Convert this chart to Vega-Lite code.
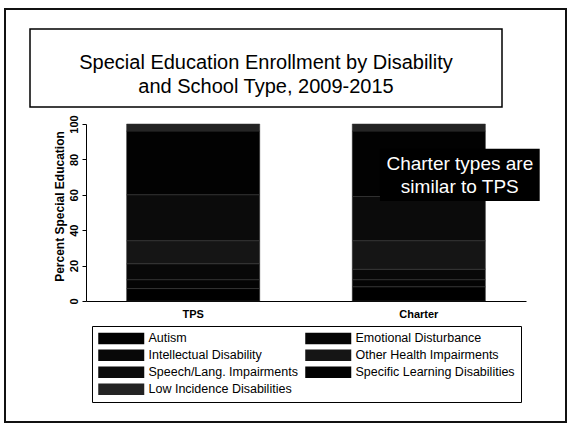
{
  "$schema": "https://vega.github.io/schema/vega-lite/v6.json",
  "width": 561,
  "height": 413,
  "autosize": {"type": "none"},
  "padding": {"left": 5, "top": 9, "right": 5, "bottom": 4},
  "background": "white",
  "config": {
    "view": {"stroke": "#111111", "strokeWidth": 2},
    "font": "Liberation Sans",
    "axis": {"labelFont": "Liberation Sans", "titleFont": "Liberation Sans", "labelColor": "#000000", "titleColor": "#000000", "domainColor": "#000000", "tickColor": "#000000", "grid": false}
  },
  "datasets": {
    "enroll": [
      {"school": "TPS", "disability": "Autism", "rank": 1, "pct": 7},
      {"school": "TPS", "disability": "Emotional Disturbance", "rank": 2, "pct": 5},
      {"school": "TPS", "disability": "Intellectual Disability", "rank": 3, "pct": 9},
      {"school": "TPS", "disability": "Other Health Impairments", "rank": 4, "pct": 13},
      {"school": "TPS", "disability": "Speech/Lang. Impairments", "rank": 5, "pct": 26},
      {"school": "TPS", "disability": "Specific Learning Disabilities", "rank": 6, "pct": 36},
      {"school": "TPS", "disability": "Low Incidence Disabilities", "rank": 7, "pct": 4},
      {"school": "Charter", "disability": "Autism", "rank": 1, "pct": 8},
      {"school": "Charter", "disability": "Emotional Disturbance", "rank": 2, "pct": 4},
      {"school": "Charter", "disability": "Intellectual Disability", "rank": 3, "pct": 6},
      {"school": "Charter", "disability": "Other Health Impairments", "rank": 4, "pct": 16},
      {"school": "Charter", "disability": "Speech/Lang. Impairments", "rank": 5, "pct": 25},
      {"school": "Charter", "disability": "Specific Learning Disabilities", "rank": 6, "pct": 37},
      {"school": "Charter", "disability": "Low Incidence Disabilities", "rank": 7, "pct": 4}
    ]
  },
  "layer": [
    {
      "layer": [
        {
          "data": {"name": "enroll"},
          "mark": {"type": "bar", "stroke": "#333333", "strokeWidth": 0.5},
          "encoding": {
            "x": {
              "field": "school", "type": "nominal", "sort": ["TPS", "Charter"],
              "scale": {"range": [81, 521], "paddingInner": 0.41, "paddingOuter": 0.18},
              "axis": {"title": null, "labelAngle": 0, "ticks": false, "labelFontSize": 11, "labelFontWeight": "bold", "offset": -121, "labelPadding": 7, "domainWidth": 1}
            },
            "y": {
              "field": "pct", "type": "quantitative", "stack": "zero",
              "scale": {"domain": [0, 100], "range": [292, 115], "nice": false},
              "axis": {"title": "Percent Special Education", "values": [0, 20, 40, 60, 80, 100], "labelAngle": -90, "labelAlign": "center", "labelBaseline": "bottom", "labelFontSize": 11, "labelFontWeight": "bold", "titleFontSize": 12, "titleFontWeight": "bold", "titleY": 197, "offset": -81, "tickSize": 4, "labelPadding": 3, "titlePadding": 2, "domainWidth": 1}
            },
            "order": {"field": "rank", "type": "quantitative", "sort": "ascending"},
            "color": {
              "field": "disability", "type": "nominal",
              "sort": ["Autism", "Emotional Disturbance", "Intellectual Disability", "Other Health Impairments", "Speech/Lang. Impairments", "Specific Learning Disabilities", "Low Incidence Disabilities"],
              "scale": {
                "domain": ["Autism", "Emotional Disturbance", "Intellectual Disability", "Other Health Impairments", "Speech/Lang. Impairments", "Specific Learning Disabilities", "Low Incidence Disabilities"],
                "range": ["#000000", "#040404", "#080808", "#151515", "#0b0b0b", "#020202", "#232323"]
              },
              "legend": {
                "orient": "none", "legendX": 87, "legendY": 317, "direction": "horizontal", "columns": 2, "title": null,
                "symbolType": "M-4,-1H4V1H-4Z", "symbolSize": 132.25, "symbolStrokeWidth": 0, "symbolOffset": 17,
                "labelFontSize": 12.5, "labelFont": "Liberation Sans", "labelColor": "#000000", "labelLimit": 300, "labelOffset": 21,
                "strokeColor": "#000000", "padding": 6, "rowPadding": 4, "columnPadding": 7
              }
            }
          }
        },
        {
          "data": {"values": [{}]},
          "mark": {"type": "bar", "color": "#000000", "width": {"band": 1.2}, "xOffset": 41},
          "encoding": {
            "x": {"datum": "Charter", "type": "nominal"},
            "y": {"datum": 86, "type": "quantitative"},
            "y2": {"datum": 56.5}
          }
        },
        {
          "data": {"values": [{}]},
          "mark": {"type": "text", "text": ["Charter types are", "similar to TPS"], "color": "#ffffff", "fontSize": 19, "font": "Liberation Sans", "dx": 41, "dy": -11, "align": "center", "baseline": "middle", "lineHeight": 23},
          "encoding": {
            "x": {"datum": "Charter", "type": "nominal"},
            "y": {"datum": 71.2, "type": "quantitative"}
          }
        }
      ]
    },
    {
      "data": {"values": [{}]},
      "layer": [
        {
          "mark": {"type": "rect", "filled": false, "stroke": "#000000", "strokeWidth": 1.5},
          "encoding": {
            "x": {"datum": 0, "type": "quantitative", "scale": {"domain": [0, 1], "range": [25, 497]}, "axis": null},
            "x2": {"datum": 1},
            "y": {"datum": 0, "type": "quantitative", "scale": {"domain": [0, 1], "range": [20, 98]}, "axis": null},
            "y2": {"datum": 1}
          }
        },
        {
          "mark": {"type": "text", "text": ["Special Education Enrollment by Disability", "and School Type, 2009-2015"], "fontSize": 20, "font": "Liberation Sans", "color": "#000000", "align": "center", "baseline": "middle", "lineHeight": 24, "dy": -5},
          "encoding": {
            "x": {"datum": 0.5, "type": "quantitative"},
            "y": {"datum": 0.5, "type": "quantitative"}
          }
        }
      ]
    }
  ],
  "resolve": {"scale": {"x": "independent", "y": "independent"}}
}
